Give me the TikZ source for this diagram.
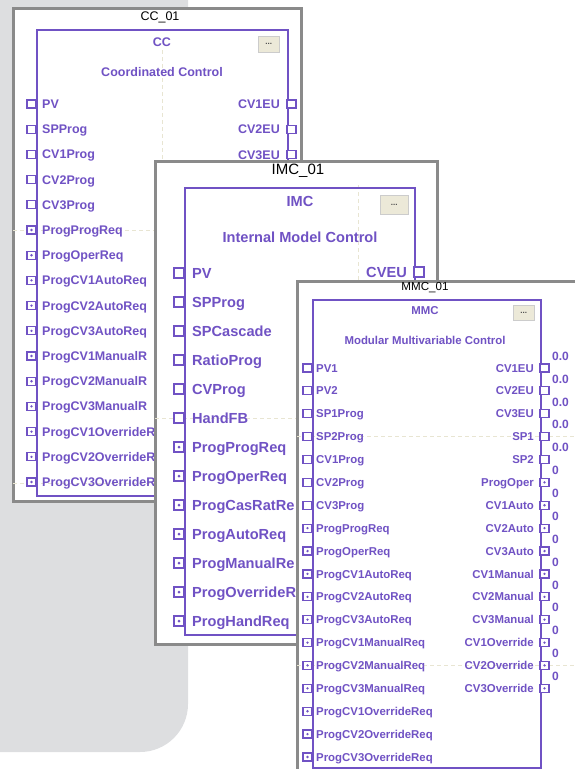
\documentclass[tikz,border=0pt]{standalone}
\usepackage{fontspec}
\setmainfont{Liberation Sans}
\definecolor{fbp}{RGB}{112,82,196}
\definecolor{sheetgray}{RGB}{138,138,138}
\definecolor{bggray}{RGB}{221,222,224}
\definecolor{gridc}{RGB}{232,229,210}
\definecolor{btnfill}{RGB}{236,233,216}
\begin{document}
\begin{tikzpicture}[x=1pt,y=-1pt,
  sheet/.style={draw=sheetgray,line width=2.6,fill=white,inner sep=0,anchor=north west},
  blk/.style={draw=fbp,line width=1.6,inner sep=0,anchor=north west},
  gridl/.style={draw=gridc,line width=0.8,dash pattern=on 4pt off 3pt},
  apin/.style={draw=fbp,line width=1.2,fill=white,inner sep=0,minimum width=9,minimum height=8},
  apinb/.style={apin,minimum width=10,minimum height=10},
  bpin/.style={apin,path picture={\fill[fbp] (path picture bounding box.center) circle (1.3pt);}},
  bpinb/.style={apinb,path picture={\fill[fbp] (path picture bounding box.center) circle (1.5pt);}},
  btn/.style={fill=btnfill,draw=black!20,line width=0.6,inner sep=0,anchor=north west,text=black!70,font=\fontsize{8}{8}\selectfont\bfseries,
     path picture={\draw[black!45,line width=1.4] (path picture bounding box.south west) -- (path picture bounding box.south east) -- (path picture bounding box.north east);}},
  ttl/.style={text=black,inner sep=0},
  ptxt/.style={text=fbp,inner sep=0},
  ccf/.style={font=\fontsize{12.5}{14}\selectfont\bfseries},
  imf/.style={font=\fontsize{14.6}{16}\selectfont\bfseries},
  mmf/.style={font=\fontsize{11.4}{13}\selectfont\bfseries},
  valf/.style={font=\fontsize{12}{13}\selectfont\bfseries},
]
\useasboundingbox (0,0) rectangle (574,769);
\fill[bggray,rounded corners=48] (-60,-60) -- (188,-60) -- (188,752) -- (-60,752) -- cycle;

% ---------------- CC_01 ----------------
\node[sheet,minimum width=288,minimum height=493] (ccsheet) at (12,7) {};
\begin{scope}
\clip (13,8) rectangle (299,499);
\draw[gridl] (162,50) -- (162,499);
\draw[gridl] (13,230) -- (299,230);
\draw[gridl] (13,483) -- (299,483);
\end{scope}
\node[ttl,font=\fontsize{12.5}{14}\selectfont] (cctitle) at (160,17) {CC\_01};
\node[blk,minimum width=251,minimum height=466] (ccblk) at (36,29) {};
\node[ptxt,ccf] (cchead) at (162,42) {CC};
\node[btn,minimum width=21,minimum height=16] (ccbtn) at (258,36) {...};
\node[ptxt,ccf] (ccdesc) at (162,72) {Coordinated Control};
\foreach \lab [count=\i] in {PV,SPProg,CV1Prog,CV2Prog,CV3Prog}{
  \node[apin] (ccin\i) at (31.5,{104+25.2*(\i-1)}) {};
  \node[ptxt,ccf,anchor=base west] (ccinl\i) at (42,{108.5+25.2*(\i-1)}) {\lab};
}
\foreach \lab [count=\i from 6] in {ProgProgReq,ProgOperReq,ProgCV1AutoReq,ProgCV2AutoReq,ProgCV3AutoReq,ProgCV1ManualR,ProgCV2ManualR,ProgCV3ManualR,ProgCV1OverrideR,ProgCV2OverrideR,ProgCV3OverrideR}{
  \node[bpin] (ccin\i) at (31.5,{104+25.2*(\i-1)}) {};
  \node[ptxt,ccf,anchor=base west] (ccinl\i) at (42,{108.5+25.2*(\i-1)}) {\lab};
}
\foreach \lab [count=\i] in {CV1EU,CV2EU,CV3EU}{
  \node[apin] (ccout\i) at (291.5,{104+25.4*(\i-1)}) {};
  \node[ptxt,ccf,anchor=base east] (ccoutl\i) at (280,{108.5+25.4*(\i-1)}) {\lab};
}

% ---------------- IMC_01 ----------------
\node[sheet,minimum width=282,minimum height=483] (imsheet) at (154,160) {};
\begin{scope}
\clip (155,161) rectangle (435,642);
\draw[gridl] (358,185) -- (358,642);
\draw[gridl] (155,418) -- (435,418);
\end{scope}
\node[ttl,font=\fontsize{15}{17}\selectfont] (imtitle) at (298,171) {IMC\_01};
\node[blk,minimum width=230,minimum height=447] (imblk) at (184,187) {};
\node[ptxt,imf] (imhead) at (300,201) {IMC};
\node[btn,minimum width=28,minimum height=19] (imbtn) at (380,195) {...};
\node[ptxt,imf] (imdesc) at (300,237) {Internal Model Control};
\foreach \lab [count=\i] in {PV,SPProg,SPCascade,RatioProg,CVProg,HandFB}{
  \node[apinb] (imin\i) at (179,{273+29*(\i-1)}) {};
  \node[ptxt,imf,anchor=base west] (iminl\i) at (192,{278.3+29*(\i-1)}) {\lab};
}
\foreach \lab [count=\i from 7] in {ProgProgReq,ProgOperReq,ProgCasRatRe,ProgAutoReq,ProgManualRe,ProgOverrideR,ProgHandReq}{
  \node[bpinb] (imin\i) at (179,{273+29*(\i-1)}) {};
  \node[ptxt,imf,anchor=base west] (iminl\i) at (192,{278.3+29*(\i-1)}) {\lab};
}
\node[apinb] (imout1) at (419,272) {};
\node[ptxt,imf,anchor=base east] (imoutl1) at (407,277.3) {CVEU};

% ---------------- MMC_01 ----------------
\node[sheet,minimum width=290,minimum height=500] (mmsheet) at (296,280) {};
\begin{scope}
\clip (297,281) rectangle (574,769);
\draw[gridl] (297,436) -- (574,436);
\draw[gridl] (297,665) -- (574,665);
\end{scope}
\node[ttl,font=\fontsize{11.6}{13}\selectfont] (mmtitle) at (425,288) {MMC\_01};
\node[blk,minimum width=228,minimum height=468] (mmblk) at (312,299) {};
\node[ptxt,mmf] (mmhead) at (425,311) {MMC};
\node[btn,minimum width=21,minimum height=15] (mmbtn) at (513,305) {...};
\node[ptxt,mmf] (mmdesc) at (425,340) {Modular Multivariable Control};
\foreach \lab [count=\i] in {PV1,PV2,SP1Prog,SP2Prog,CV1Prog,CV2Prog,CV3Prog}{
  \node[apin] (mmin\i) at (307.5,{368+22.88*(\i-1)}) {};
  \node[ptxt,mmf,anchor=base west] (mminl\i) at (316,{372.1+22.88*(\i-1)}) {\lab};
}
\foreach \lab [count=\i from 8] in {ProgProgReq,ProgOperReq,ProgCV1AutoReq,ProgCV2AutoReq,ProgCV3AutoReq,ProgCV1ManualReq,ProgCV2ManualReq,ProgCV3ManualReq,ProgCV1OverrideReq,ProgCV2OverrideReq,ProgCV3OverrideReq}{
  \node[bpin] (mmin\i) at (307.5,{368+22.88*(\i-1)}) {};
  \node[ptxt,mmf,anchor=base west] (mminl\i) at (316,{372.1+22.88*(\i-1)}) {\lab};
}
\foreach \lab [count=\i] in {CV1EU,CV2EU,CV3EU,SP1,SP2}{
  \node[apin] (mmout\i) at (544.5,{368+22.88*(\i-1)}) {};
  \node[ptxt,mmf,anchor=base east] (mmoutl\i) at (534,{372.1+22.88*(\i-1)}) {\lab};
  \node[ptxt,valf,anchor=base west] (mmval\i) at (552,{360.3+22.88*(\i-1)}) {0.0};
}
\foreach \lab [count=\i from 6] in {ProgOper,CV1Auto,CV2Auto,CV3Auto,CV1Manual,CV2Manual,CV3Manual,CV1Override,CV2Override,CV3Override}{
  \node[bpin] (mmout\i) at (544.5,{368+22.88*(\i-1)}) {};
  \node[ptxt,mmf,anchor=base east] (mmoutl\i) at (534,{372.1+22.88*(\i-1)}) {\lab};
  \node[ptxt,valf,anchor=base west] (mmval\i) at (552,{360.3+22.88*(\i-1)}) {0};
}
\end{tikzpicture}
\end{document}
